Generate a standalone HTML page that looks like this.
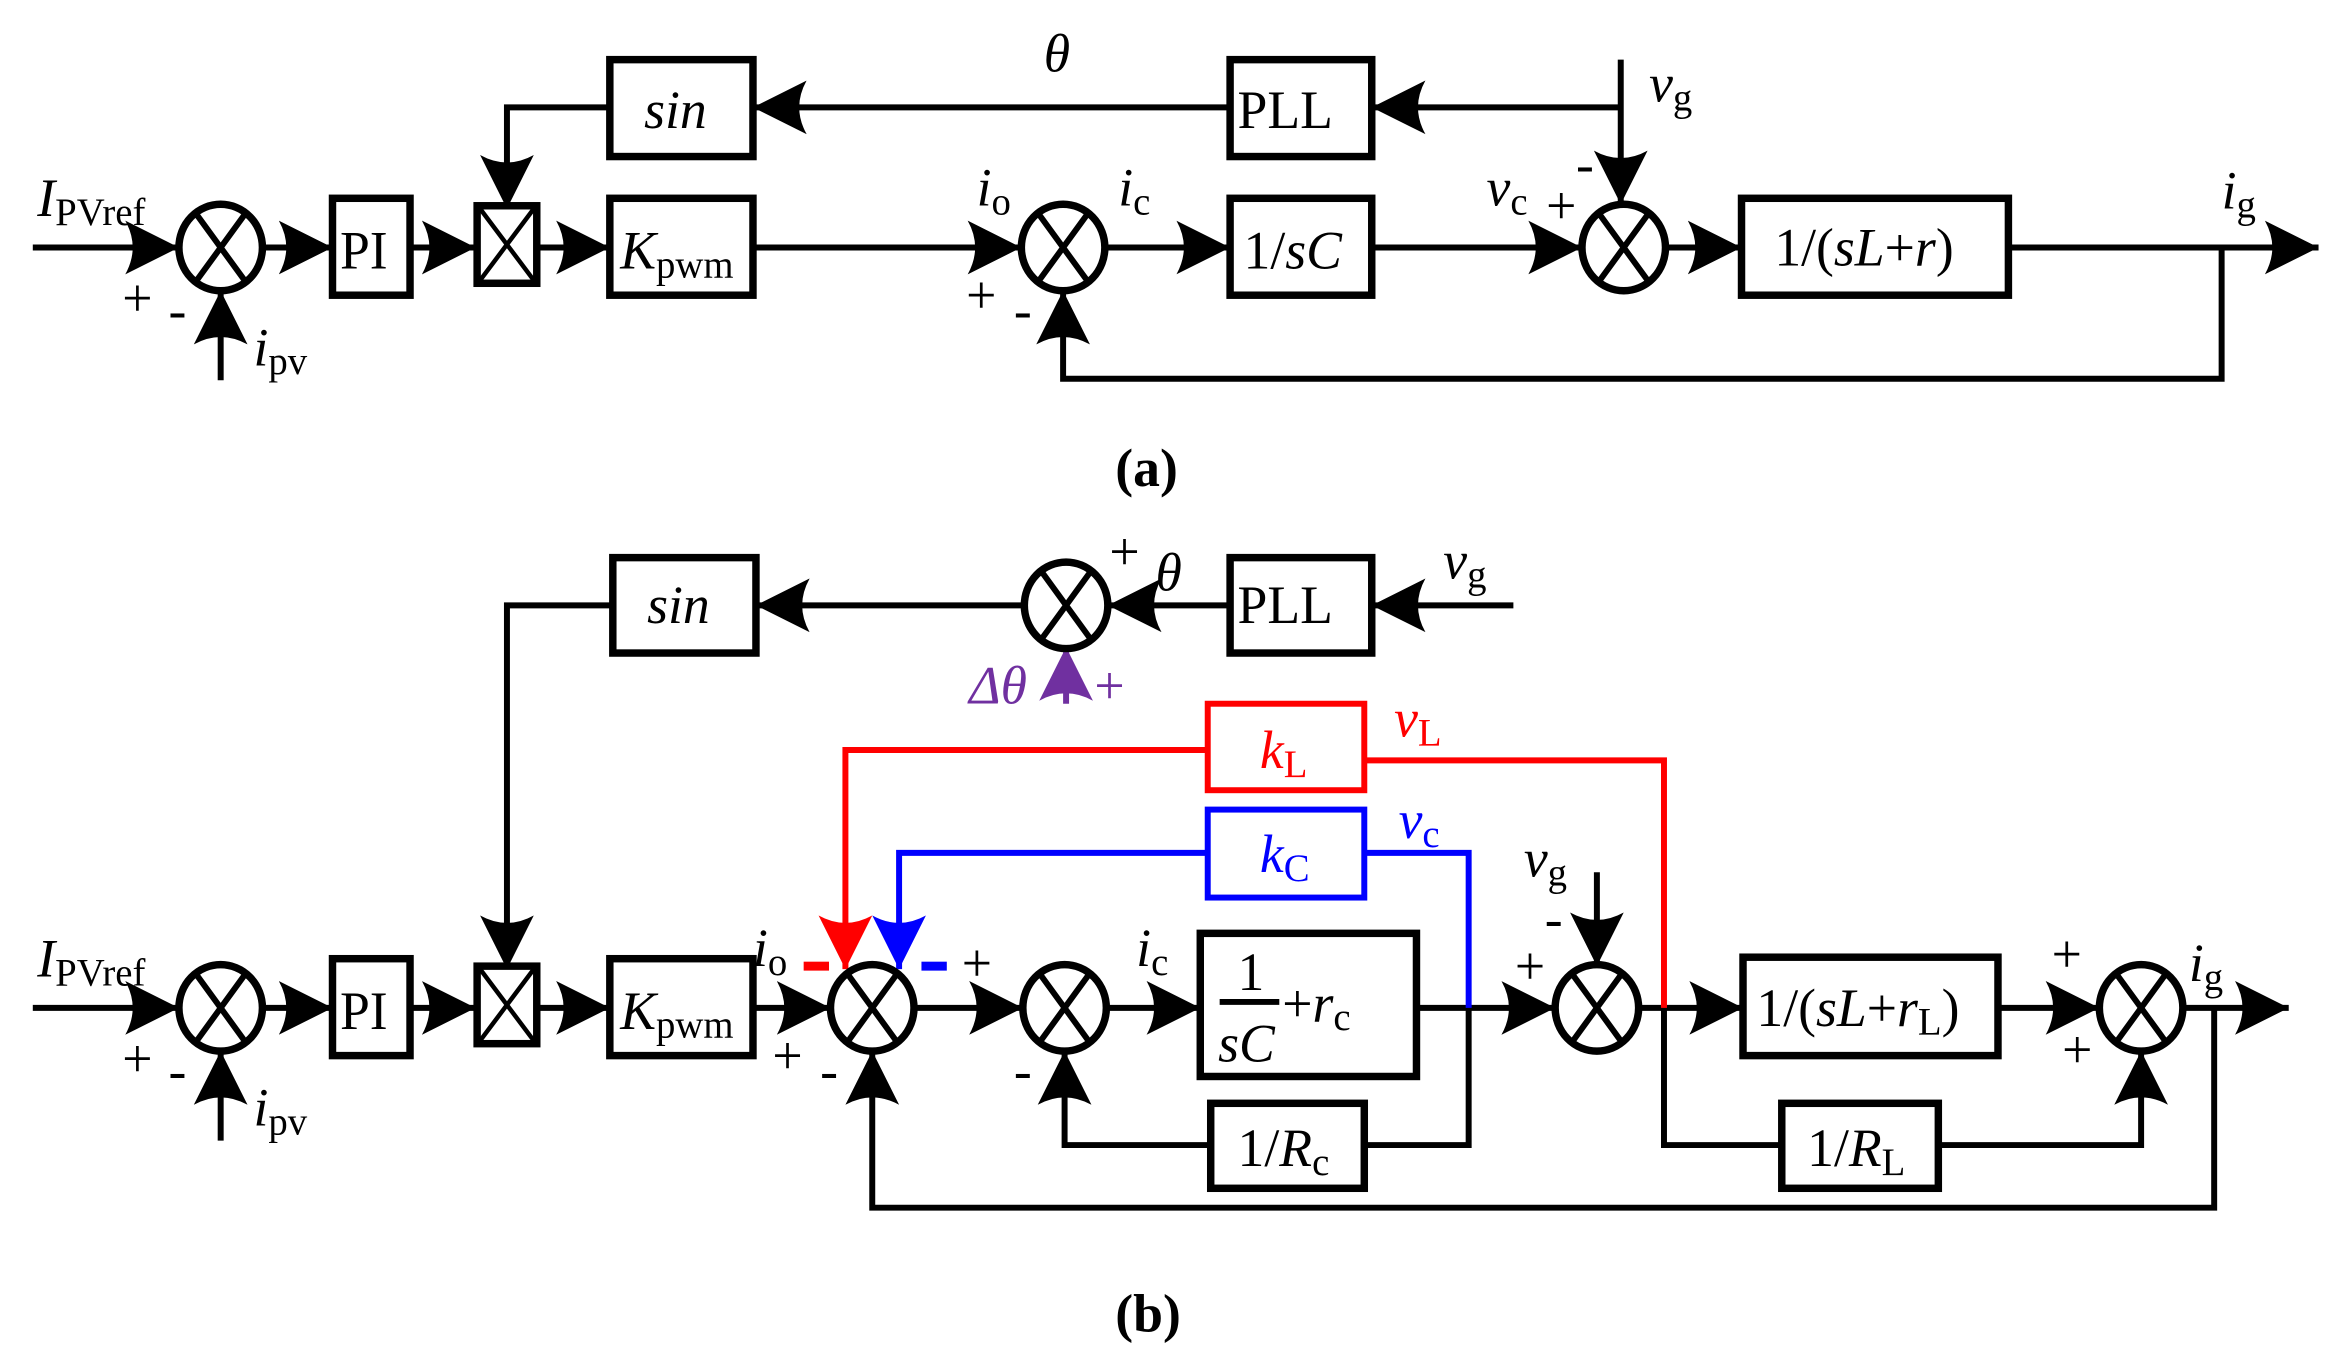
<!DOCTYPE html>
<html><head><meta charset="utf-8"><style>
html,body{margin:0;padding:0;background:#fff}
svg{display:block}
text{font-family:"Liberation Serif",serif;font-size:36px}
.i{font-style:italic}
.s{font-size:26px;font-style:normal}
</style></head><body>
<svg width="2326" height="1362" viewBox="0 0 1560 913.5" preserveAspectRatio="none" xmlns="http://www.w3.org/2000/svg">
<defs>
<marker id="a" markerWidth="40" markerHeight="40" refX="36" refY="20" orient="auto" markerUnits="userSpaceOnUse"><path d="M0,2 L36,20 L0,38 Q10,20 0,2Z" fill="#000"/></marker>
<marker id="r" markerWidth="40" markerHeight="40" refX="36" refY="20" orient="auto" markerUnits="userSpaceOnUse"><path d="M0,2 L36,20 L0,38 Q10,20 0,2Z" fill="#f00"/></marker>
<marker id="b" markerWidth="40" markerHeight="40" refX="36" refY="20" orient="auto" markerUnits="userSpaceOnUse"><path d="M0,2 L36,20 L0,38 Q10,20 0,2Z" fill="#00f"/></marker>
<marker id="p" markerWidth="40" markerHeight="40" refX="36" refY="20" orient="auto" markerUnits="userSpaceOnUse"><path d="M0,2 L36,20 L0,38 Q10,20 0,2Z" fill="#7030a0"/></marker>
<g id="sum"><ellipse cx="0" cy="0" rx="28" ry="29" fill="#fff" stroke="#000" stroke-width="5"/><path d="M-16,-22 L16,22 M16,-22 L-16,22" stroke="#000" stroke-width="4"/></g>
<g id="mul"><rect x="-20" y="-26" width="40" height="52" fill="#fff" stroke="#000" stroke-width="5"/><path d="M-18,-24 L18,24 M18,-24 L-18,24" stroke="#000" stroke-width="3"/></g>
</defs>
<g fill="none" stroke="#000" stroke-width="4">
<!-- (a) -->
<path d="M22,166 H120" marker-end="url(#a)"/>
<path d="M148,255 V195" marker-end="url(#a)"/>
<path d="M176,166 H223" marker-end="url(#a)"/>
<path d="M275,166 H319" marker-end="url(#a)"/>
<path d="M360,166 H409" marker-end="url(#a)"/>
<path d="M505,166 H685" marker-end="url(#a)"/>
<path d="M741,166 H825" marker-end="url(#a)"/>
<path d="M920,166 H1061" marker-end="url(#a)"/>
<path d="M1117,166 H1168" marker-end="url(#a)"/>
<path d="M1347,166 H1555" marker-end="url(#a)"/>
<path d="M1490,166 V254 H713 V195" marker-end="url(#a)"/>
<path d="M1087,40 V137" marker-end="url(#a)"/>
<path d="M1087,72 H920" marker-end="url(#a)"/>
<path d="M825,72 H505" marker-end="url(#a)"/>
<path d="M409,72 H340 V140" marker-end="url(#a)"/>
<!-- (b) -->
<path d="M22,676 H120" marker-end="url(#a)"/>
<path d="M148,765 V705" marker-end="url(#a)"/>
<path d="M176,676 H223" marker-end="url(#a)"/>
<path d="M275,676 H319" marker-end="url(#a)"/>
<path d="M360,676 H409" marker-end="url(#a)"/>
<path d="M505,676 H557" marker-end="url(#a)"/>
<path d="M613,676 H686" marker-end="url(#a)"/>
<path d="M742,676 H805" marker-end="url(#a)"/>
<path d="M950,676 H1043" marker-end="url(#a)"/>
<path d="M1099,676 H1169" marker-end="url(#a)"/>
<path d="M1340,676 H1408" marker-end="url(#a)"/>
<path d="M1464,676 H1535" marker-end="url(#a)"/>
<path d="M985,676 V768 H915 M812,768 H714 V705" marker-end="url(#a)"/>
<path d="M1116,676 V768 H1195 M1300,768 H1436 V705" marker-end="url(#a)"/>
<path d="M1485,676 V810 H585 V705" marker-end="url(#a)"/>
<path d="M1071,585 V648" marker-end="url(#a)"/>
<path d="M1015,406 H920" marker-end="url(#a)"/>
<path d="M825,406 H743" marker-end="url(#a)"/>
<path d="M687,406 H507" marker-end="url(#a)"/>
<path d="M411,406 H340 V650" marker-end="url(#a)"/>
</g>
<path d="M1116,676 V510 H915 M810,503 H567 V650" fill="none" stroke="#f00" stroke-width="4" marker-end="url(#r)"/>
<path d="M985,676 V572 H915 M810,572 H603 V650" fill="none" stroke="#00f" stroke-width="4" marker-end="url(#b)"/>
<path d="M715,472 V434" fill="none" stroke="#7030a0" stroke-width="4" marker-end="url(#p)"/>
<!-- blocks -->
<g fill="#fff" stroke="#000" stroke-width="5">
<rect x="223" y="133" width="52" height="65"/><rect x="409" y="133" width="96" height="65"/>
<rect x="825" y="133" width="95" height="65"/><rect x="1168" y="133" width="179" height="65"/>
<rect x="409" y="40" width="96" height="65"/><rect x="825" y="40" width="95" height="65"/>
<rect x="223" y="643" width="52" height="65"/><rect x="409" y="643" width="96" height="65"/>
<rect x="805" y="626" width="145" height="96"/><rect x="1169" y="642" width="171" height="66"/>
<rect x="812" y="740" width="103" height="57"/><rect x="1195" y="740" width="105" height="57"/>
<rect x="411" y="374" width="96" height="64"/><rect x="825" y="374" width="95" height="64"/>
</g>
<rect x="810" y="472" width="105" height="58" fill="#fff" stroke="#f00" stroke-width="4"/>
<rect x="810" y="543" width="105" height="59" fill="#fff" stroke="#00f" stroke-width="4"/>
<use href="#sum" x="148" y="166"/><use href="#sum" x="713" y="166"/><use href="#sum" x="1089" y="166"/>
<use href="#mul" x="340" y="164"/>
<use href="#sum" x="148" y="676"/><use href="#sum" x="585" y="676"/><use href="#sum" x="714" y="676"/>
<use href="#sum" x="1071" y="676"/><use href="#sum" x="1436" y="676"/><use href="#sum" x="715" y="406"/>
<use href="#mul" x="340" y="674"/>
<!-- text (a) -->
<text x="25" y="145" class="i">I<tspan class="s" dy="6">PVref</tspan></text>
<text x="82" y="212" font-size="30">+</text><text x="113" y="220" font-size="30">-</text>
<text x="170" y="245" class="i">i<tspan class="s" dy="6">pv</tspan></text>
<text x="228" y="180">PI</text>
<text x="416" y="180" class="i">K<tspan class="s" dy="6">pwm</tspan></text>
<text x="432" y="86" class="i">sin</text>
<text x="834" y="180">1/<tspan class="i">sC</tspan></text>
<text x="830" y="86">PLL</text>
<text x="700" y="48" class="i">θ</text>
<text x="655" y="138" class="i">i<tspan class="s" dy="6">o</tspan></text>
<text x="750" y="138" class="i">i<tspan class="s" dy="6">c</tspan></text>
<text x="648" y="210" font-size="30">+</text><text x="680" y="220" font-size="30">-</text>
<text x="997" y="138" class="i">v<tspan class="s" dy="6">c</tspan></text>
<text x="1037" y="150" font-size="30">+</text><text x="1057" y="122" font-size="30">-</text>
<text x="1106" y="68" class="i">v<tspan class="s" dy="6">g</tspan></text>
<text x="1190" y="178">1/(<tspan class="i">sL</tspan>+<tspan class="i">r</tspan>)</text>
<text x="1490" y="140" class="i">i<tspan class="s" dy="6">g</tspan></text>
<text x="748" y="326" font-weight="bold">(a)</text>
<!-- text (b) -->
<text x="25" y="655" class="i">I<tspan class="s" dy="6">PVref</tspan></text>
<text x="82" y="722" font-size="30">+</text><text x="113" y="730" font-size="30">-</text>
<text x="170" y="755" class="i">i<tspan class="s" dy="6">pv</tspan></text>
<text x="228" y="690">PI</text>
<text x="416" y="690" class="i">K<tspan class="s" dy="6">pwm</tspan></text>
<text x="434" y="418" class="i">sin</text>
<text x="830" y="418">PLL</text>
<text x="968" y="388" class="i">v<tspan class="s" dy="6">g</tspan></text>
<text x="775" y="396" class="i">θ</text>
<text x="744" y="382" font-size="34">+</text>
<text x="650" y="472" class="i" fill="#7030a0">Δθ</text>
<text x="734" y="472" font-size="34" fill="#7030a0">+</text>
<text x="845" y="515" class="i" fill="#f00">k<tspan class="s" dy="6">L</tspan></text>
<text x="935" y="494" class="i" fill="#f00">v<tspan class="s" dy="6">L</tspan></text>
<text x="845" y="585" class="i" fill="#00f">k<tspan class="s" dy="6">C</tspan></text>
<text x="938" y="562" class="i" fill="#00f">v<tspan class="s" dy="6">c</tspan></text>
<text x="505" y="648" class="i">i<tspan class="s" dy="6">o</tspan></text>
<rect x="539" y="645" width="17" height="6" fill="#f00"/>
<rect x="618" y="645" width="17" height="6" fill="#00f"/>
<text x="645" y="658" font-size="34">+</text>
<text x="518" y="720" font-size="34">+</text><text x="550" y="730" font-size="34">-</text>
<text x="680" y="730" font-size="34">-</text>
<text x="762" y="648" class="i">i<tspan class="s" dy="6">c</tspan></text>
<text x="830" y="664">1</text>
<path d="M818,672 H858" stroke="#000" stroke-width="4"/>
<text x="817" y="712" class="i">sC</text>
<text x="860" y="685">+<tspan class="i">r</tspan><tspan class="s" dy="6">c</tspan></text>
<text x="1022" y="588" class="i">v<tspan class="s" dy="6">g</tspan></text>
<text x="1036" y="628" font-size="34">-</text>
<text x="1016" y="660" font-size="34">+</text>
<text x="1178" y="688">1/(<tspan class="i">sL</tspan>+<tspan class="i">r</tspan><tspan class="s" dy="6">L</tspan><tspan dy="-6">)</tspan></text>
<text x="1376" y="652" font-size="34">+</text>
<text x="1383" y="716" font-size="34">+</text>
<text x="1468" y="658" class="i">i<tspan class="s" dy="6">g</tspan></text>
<text x="830" y="782">1/<tspan class="i">R</tspan><tspan class="s" dy="6">c</tspan></text>
<text x="1212" y="782">1/<tspan class="i">R</tspan><tspan class="s" dy="6">L</tspan></text>
<text x="748" y="893" font-weight="bold">(b)</text>
</svg>
</body></html>
